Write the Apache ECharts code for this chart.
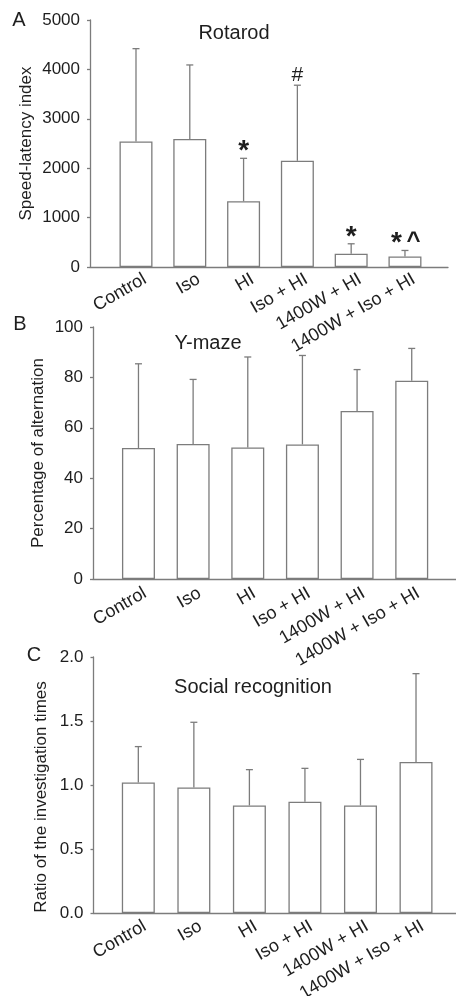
<!DOCTYPE html>
<html>
<head>
<meta charset="utf-8">
<script src="https://cdn.jsdelivr.net/npm/echarts@6/dist/echarts.min.js"></script>
<style>
html,body{margin:0;padding:0;background:#fff;}
#c{width:456px;height:996px;}
</style>
</head>
<body>
<div id="c"></div>
<script>
// ---- data ----
const categories = ['Control', 'Iso', 'HI', 'Iso + HI', '1400W + HI', '1400W + Iso + HI'];

const rotarodMean = [2540, 2590, 1330, 2150, 270, 215];
const rotarodSD   = [1880, 1500, 870, 1530, 200, 120];
const rotarodSig  = ['', '', '*', '#', '*', '* ^'];
const rotarodTicks = [0, 1000, 2000, 3000, 4000, 5000];

const ymazeMean = [52.0, 53.6, 52.2, 53.4, 66.7, 78.7];
const ymazeSD   = [33.4, 25.6, 35.9, 35.3, 16.4, 12.8];
const ymazeSig  = ['', '', '', '', '', ''];
const ymazeTicks = [0, 20, 40, 60, 80, 100];

const socialMean = [1.02, 0.98, 0.84, 0.87, 0.84, 1.18];
const socialSD   = [0.28, 0.51, 0.28, 0.26, 0.36, 0.69];
const socialSig  = ['', '', '', '', '', ''];
const socialTicks = [0.0, 0.5, 1.0, 1.5, 2.0];

// ---- styling ----
const FONT = 'Liberation Sans';
const TXT = '#1e1e1e';
const LINE = '#7c7c7c';

// glyph styles for significance marks: font and vertical offset above the error-bar cap
const SIG_STYLE = {
  '*': { font: 'bold 28px ' + FONT, dy: 7 },
  '#': { font: '21px ' + FONT, dy: 10 },
  '^': { font: 'bold 24px ' + FONT, dy: 9 }
};

const panels = [
  { letter: 'A', title: 'Rotarod', yName: 'Speed-latency index',
    mean: rotarodMean, sd: rotarodSD, sig: rotarodSig, ticks: rotarodTicks, dec: 0,
    grid: { left: 90, top: 20, width: 358, height: 247 }, xMin: -0.855, xMax: 5.80, nameGap: 55,
    namePad: [0, 0, 0, 0], labShift: 0.167, labMargin: 11,
    titlePos: [234, 33], letterPos: [19, 20] },
  { letter: 'B', title: 'Y-maze', yName: 'Percentage of alternation',
    mean: ymazeMean, sd: ymazeSD, sig: ymazeSig, ticks: ymazeTicks, dec: 0,
    grid: { left: 93, top: 327, width: 363, height: 252 }, xMin: -0.832, xMax: 5.81, nameGap: 46,
    namePad: [0, 0, 0, 0], labShift: 0.12, labMargin: 13,
    titlePos: [208, 343], letterPos: [20, 324] },
  { letter: 'C', title: 'Social recognition', yName: 'Ratio of the investigation times',
    mean: socialMean, sd: socialSD, sig: socialSig, ticks: socialTicks, dec: 1,
    grid: { left: 93.5, top: 657, width: 362.5, height: 256 }, xMin: -0.807, xMax: 5.72, nameGap: 43.5,
    namePad: [0, 24, 0, 0], labShift: 0.117, labMargin: 12,
    titlePos: [253, 687], letterPos: [34, 655] }
];

const grids = [], xAxes = [], yAxes = [], series = [], graphics = [];

panels.forEach((p, k) => {
  grids.push(Object.assign({ containLabel: false, outerBoundsMode: 'none' }, p.grid));
  const tmin = p.ticks[0], tmax = p.ticks[p.ticks.length - 1];
  xAxes.push({
    type: 'value', gridIndex: k, min: p.xMin, max: p.xMax,
    axisLine: { show: true, onZero: false, lineStyle: { color: LINE, width: 1.3 } },
    axisTick: { show: false },
    splitLine: { show: false },
    axisLabel: {
      customValues: categories.map((c, i) => i + p.labShift),
      formatter: v => categories[Math.round(v)],
      rotate: 30, margin: p.labMargin, color: TXT, fontFamily: FONT, fontSize: 18
    }
  });
  yAxes.push({
    type: 'value', gridIndex: k, min: tmin, max: tmax, interval: p.ticks[1] - p.ticks[0],
    name: p.yName, nameLocation: 'middle', nameGap: p.nameGap, nameMoveOverlap: false,
    nameTextStyle: { color: TXT, fontFamily: FONT, fontSize: 17, padding: p.namePad },
    axisLine: { show: true, onZero: false, lineStyle: { color: LINE, width: 1.3 } },
    axisTick: { show: true, length: 3, lineStyle: { color: LINE, width: 1.3 } },
    splitLine: { show: false },
    axisLabel: { color: TXT, fontFamily: FONT, fontSize: 17, margin: 10,
      formatter: v => Number(v).toFixed(p.dec) }
  });
  series.push({
    type: 'bar', xAxisIndex: k, yAxisIndex: k, barWidth: 33,
    data: p.mean.map((v, i) => [i, v]),
    itemStyle: { color: '#ffffff', borderColor: LINE, borderWidth: 1.3 },
    silent: true, animation: false
  });
  series.push({
    type: 'custom', xAxisIndex: k, yAxisIndex: k, animation: false, silent: true,
    data: p.mean.map((v, i) => [i, v, v + p.sd[i]]),
    renderItem: (params, api) => {
      const x = api.value(0);
      const p0 = api.coord([x, api.value(1)]);
      const p1 = api.coord([x, api.value(2)]);
      const children = [
        { type: 'line', shape: { x1: p0[0], y1: p0[1], x2: p1[0], y2: p1[1] },
          style: { stroke: LINE, lineWidth: 1.3 } },
        { type: 'line', shape: { x1: p1[0] - 3.5, y1: p1[1], x2: p1[0] + 3.5, y2: p1[1] },
          style: { stroke: LINE, lineWidth: 1.3 } }
      ];
      const s = p.sig[params.dataIndex];
      if (s) {
        const toks = s.split(' ');
        toks.forEach((t, j) => {
          const st = SIG_STYLE[t];
          children.push({
            type: 'text',
            style: {
              text: t, x: p1[0] + (j - (toks.length - 1) / 2) * 17, y: p1[1] - st.dy,
              textAlign: 'center', textVerticalAlign: 'middle', fill: TXT, font: st.font
            }
          });
        });
      }
      return { type: 'group', children };
    }
  });
  graphics.push({ type: 'text', x: p.titlePos[0], y: p.titlePos[1],
    style: { text: p.title, font: '20px ' + FONT, fill: TXT, textAlign: 'center', textVerticalAlign: 'middle' } });
  graphics.push({ type: 'text', x: p.letterPos[0], y: p.letterPos[1],
    style: { text: p.letter, font: '20px ' + FONT, fill: TXT, textAlign: 'center', textVerticalAlign: 'middle' } });
});

const chart = echarts.init(document.getElementById('c'), null, { renderer: 'canvas' });
chart.setOption({
  animation: false,
  backgroundColor: '#ffffff',
  grid: grids, xAxis: xAxes, yAxis: yAxes, series: series, graphic: graphics
});
</script>
</body>
</html>
